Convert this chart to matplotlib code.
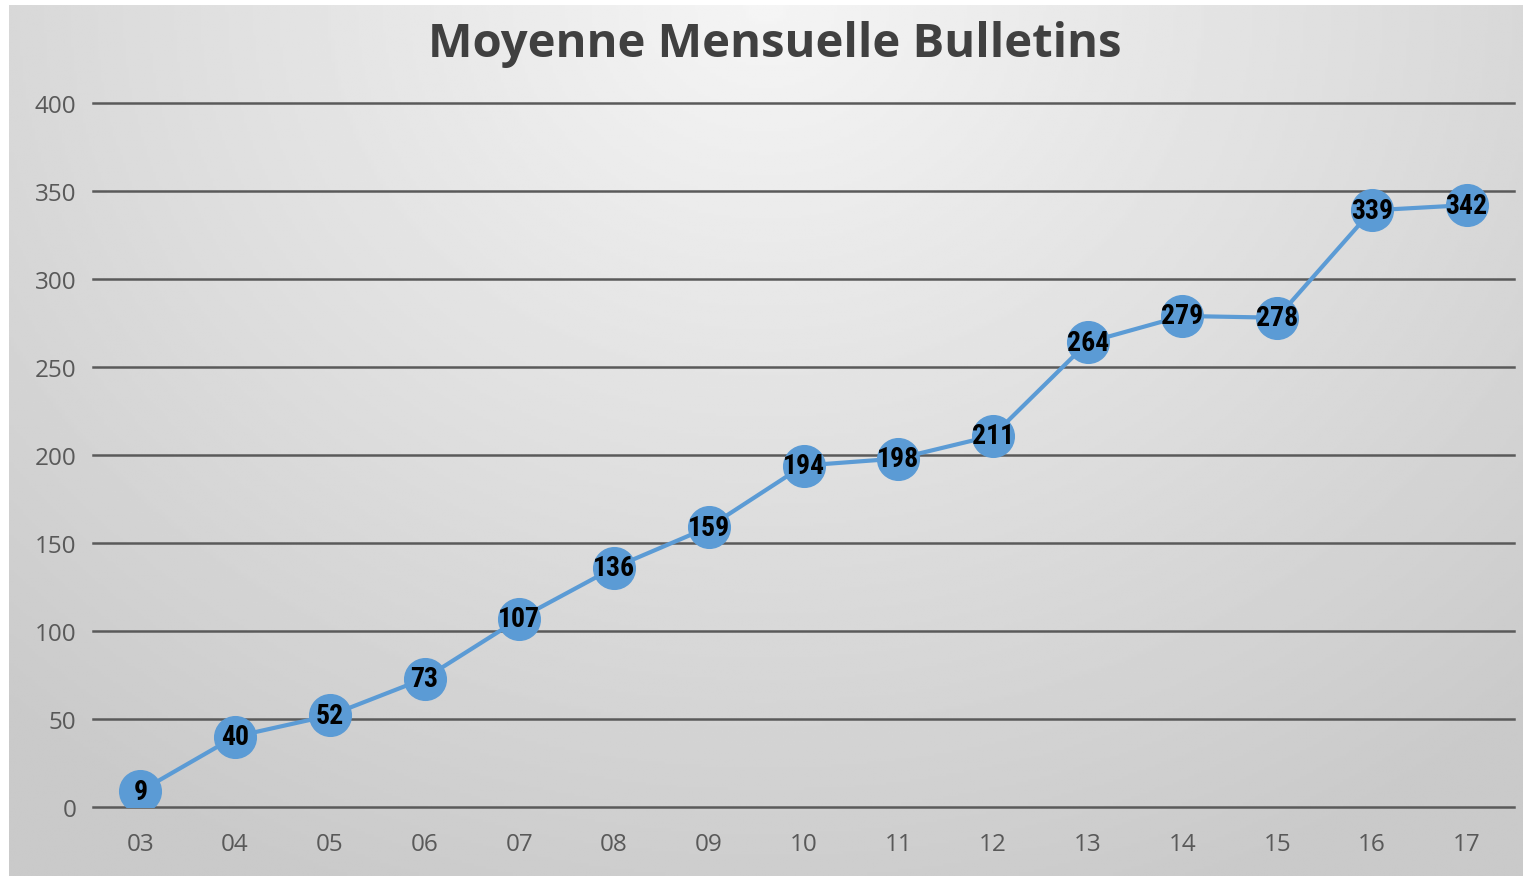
import numpy as np
import matplotlib.pyplot as plt
from matplotlib import font_manager

months = ['03', '04', '05', '06', '07', '08', '09', '10', '11', '12', '13', '14', '15', '16', '17']
bulletins = [9, 40, 52, 73, 107, 136, 159, 194, 198, 211, 264, 279, 278, 339, 342]
y_ticks = [0, 50, 100, 150, 200, 250, 300, 350, 400]

# narrow bold face for the data labels, if one is installed
label_font = {'family': ['DejaVu Sans'], 'stretch': 'normal'}
faces = {(f.name, f.stretch) for f in font_manager.fontManager.ttflist}
for name in ['Liberation Sans Narrow', 'Roboto Condensed', 'Open Sans Condensed', 'Noto Sans Condensed']:
    if any(n == name for n, _ in faces):
        label_font = {'family': [name, 'DejaVu Sans'], 'stretch': 'normal'}
        break
else:
    if any(n == 'DejaVu Sans' and s == 'condensed' for n, s in faces):
        label_font = {'family': ['DejaVu Sans'], 'stretch': 'condensed'}
    elif any(n in ('Noto Sans', 'Open Sans') and s != 'normal' for n, s in faces):
        nm = [n for n, s in faces if n in ('Noto Sans', 'Open Sans') and s != 'normal'][0]
        label_font = {'family': [nm, 'DejaVu Sans'], 'stretch': 'condensed'}

fig = plt.figure(figsize=(15.23, 8.79), dpi=100)
fig.patch.set_facecolor('white')

# gradient backdrop
bg = fig.add_axes([9 / 1523, 2 / 879, 1514 / 1523, 871 / 879])
bg.set_axis_off()
yy, xx = np.mgrid[0:1:300j, 0:1:500j]
r = np.sqrt(((xx - 0.5) / 0.75) ** 2 + (yy / 1.1) ** 2)
shade = 0.96 - 0.17 * np.clip(r, 0, 1)
bg.imshow(shade, cmap='gray', vmin=0, vmax=1, aspect='auto', extent=[0, 1, 1, 0])
bg.set_zorder(0)

ax = fig.add_axes([93 / 1523, 71 / 879, 1421 / 1523, 704 / 879])
ax.set_facecolor('none')
ax.set_zorder(1)

x = np.arange(len(months))
ax.plot(x, bulletins, color='#5B9BD5', lw=3, marker='o', markersize=30,
        markerfacecolor='#5B9BD5', markeredgecolor='#5B9BD5', zorder=3)
for xi, v in zip(x, bulletins):
    ax.text(xi, v, str(v), ha='center', va='center', fontsize=20, fontweight='bold',
            family=label_font['family'], stretch=label_font['stretch'], color='black', zorder=4)

ax.set_xlim(-0.5, len(months) - 0.5)
ax.set_ylim(0, 400)
ax.set_yticks(y_ticks)
ax.set_xticks(x)
ax.set_xticklabels(months)
for yt in y_ticks:
    ax.axhline(yt, color='#5a5a5a', lw=1.8, clip_on=False, zorder=1)
for s in ax.spines.values():
    s.set_visible(False)
ax.tick_params(length=0, labelsize=17.5, labelcolor='#595959', pad=12)
ax.tick_params(axis='x', pad=18)
for lab in ax.get_xticklabels() + ax.get_yticklabels():
    lab.set_family(['Open Sans', 'DejaVu Sans'])

fig.text(775 / 1523, 1 - 44 / 879, 'Moyenne Mensuelle Bulletins', ha='center', va='center',
         fontsize=34, fontweight='bold', color='#404040', family=['Open Sans', 'DejaVu Sans'])

fig.savefig('out.png', dpi=100)
